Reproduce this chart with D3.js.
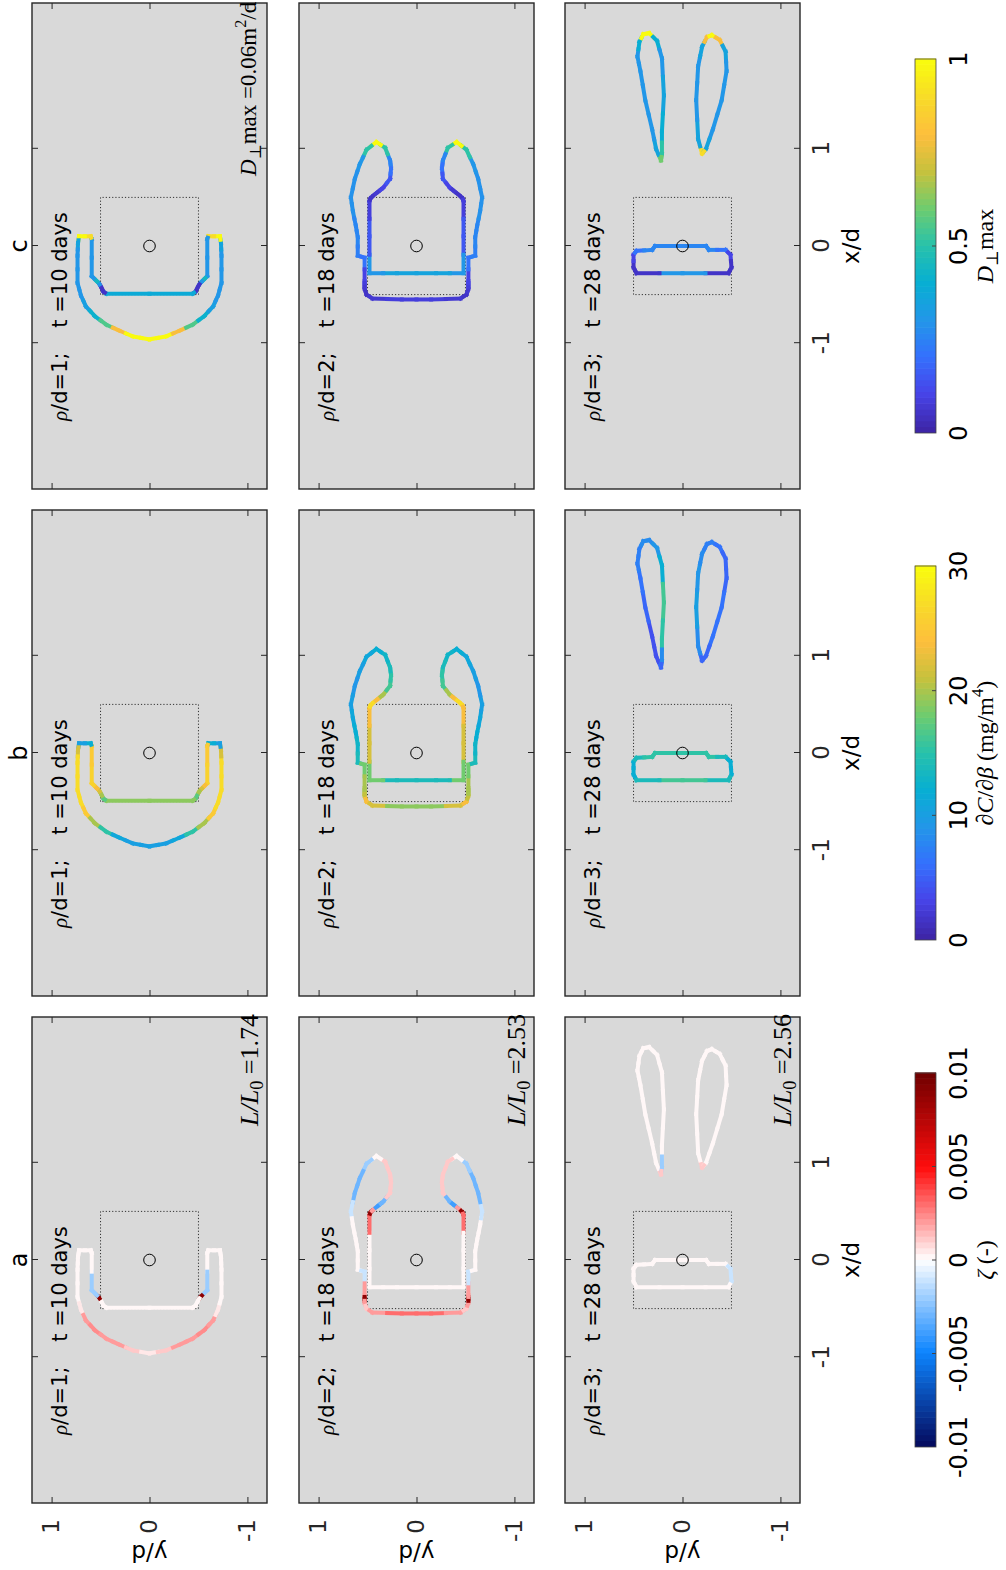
<!DOCTYPE html>
<html>
<head>
<meta charset="utf-8">
<script src="https://cdn.jsdelivr.net/npm/d3@7"></script>
<style>
  body { margin: 0; background: #fff; }
  svg { display: block; }
</style>
</head>
<body>
<svg width="1006" height="1570"></svg>
<script>
// --- Labels & ticks ---
const columnTitles = ["a", "b", "c"];
const rhoLabels = ["1", "2", "3"];
const timeLabels = ["t =10 days", "t =18 days", "t =28 days"];
const lengthRatios = ["1.74", "2.53", "2.56"];
const xTicks = [-1, 0, 1];
const yTicks = [-1, 0, 1];
const zetaTicks = [-0.01, -0.005, 0, 0.005, 0.01];
const zetaTickLabels = ["-0.01", "-0.005", "0", "0.005", "0.01"];
const dcTicks = [0, 10, 20, 30];
const dmaxTicks = [0, 0.5, 1];
const dmaxTickLabels = ["0", "0.5", "1"];

// --- Contours (x/d, y/d), one closed loop each ---
// rho/d = 1, t = 10 days
const row1Path = [
  [0.10,0.72],[0.03,0.73],[-0.10,0.735],[-0.38,0.735],[-0.51,0.70],[-0.62,0.65],[-0.72,0.56],[-0.81,0.44],[-0.87,0.31],[-0.93,0.17],[-0.96,0.0],
  [-0.93,-0.17],[-0.87,-0.31],[-0.81,-0.44],[-0.72,-0.56],[-0.62,-0.65],[-0.51,-0.70],[-0.38,-0.735],[-0.10,-0.735],[0.03,-0.73],[0.10,-0.72],
  [0.10,-0.60],[0.07,-0.59],[-0.31,-0.59],[-0.35,-0.55],[-0.38,-0.52],[-0.41,-0.50],[-0.47,-0.47],[-0.49,-0.44],
  [-0.49,0.44],[-0.47,0.47],[-0.41,0.50],[-0.38,0.52],[-0.35,0.55],[-0.31,0.59],[0.07,0.59],[0.10,0.60]
];
const row1Zeta = [0,0,0,0,0.0005,0.002,0.0025,0.002,0.002,0.001,0.0005,0.001,0.002,0.002,0.0025,0.002,0.0005,0,0,0,0,
  0,0,-0.002,-0.002,0.009,0,0,0,
  0,0,0,0.009,-0.002,-0.002,0,0];
const row1Dc = [10,22,27,27,27,25,20,15,11,10,10,10,11,15,20,25,27,27,27,22,10,
  12,25,26,24,22,20,17,19,
  19,17,20,22,24,26,25,12];
const row1Dmax = [1.0,0.35,0.3,0.3,0.3,0.33,0.42,0.55,0.8,1.0,1.0,1.0,0.8,0.55,0.42,0.33,0.3,0.3,0.3,0.35,1.0,
  0.9,0.3,0.3,0.45,0.3,0.05,0.05,0.38,
  0.38,0.05,0.05,0.3,0.45,0.3,0.3,0.9];

// rho/d = 2, t = 18 days
const row2Path = [
  [1.07,0.41],[0.99,0.51],[0.84,0.58],[0.69,0.63],[0.50,0.67],[0.36,0.65],[0.21,0.62],[0.09,0.60],[-0.10,0.60],[-0.12,0.53],
  [-0.36,0.53],[-0.40,0.53],[-0.44,0.53],[-0.50,0.51],[-0.54,0.45],[-0.55,0.15],[-0.55,-0.15],[-0.54,-0.45],[-0.50,-0.51],[-0.44,-0.53],[-0.40,-0.53],[-0.36,-0.53],
  [-0.12,-0.53],[-0.10,-0.60],[0.09,-0.60],[0.21,-0.62],[0.36,-0.65],[0.50,-0.67],[0.69,-0.63],[0.84,-0.58],[0.99,-0.51],[1.07,-0.41],
  [1.01,-0.32],[0.88,-0.27],[0.80,-0.26],[0.69,-0.27],[0.60,-0.34],[0.56,-0.39],[0.52,-0.44],[0.49,-0.47],[0.46,-0.48],
  [0.10,-0.48],[-0.28,-0.48],[-0.28,-0.20],[-0.28,0.20],[-0.28,0.48],[0.10,0.48],
  [0.46,0.48],[0.49,0.47],[0.52,0.44],[0.56,0.39],[0.60,0.34],[0.69,0.27],[0.80,0.26],[0.88,0.27],[1.01,0.32]
];
const row2Zeta = [0,-0.002,-0.003,-0.003,-0.001,0,0,0,0,-0.001,
  0.002,0.009,0.002,0.001,0.002,0.003,0.003,0.002,0.001,0.002,0.009,0.002,
  -0.001,0,0,0,0,-0.001,-0.003,-0.003,-0.002,0,
  0.001,0.001,0.001,0.001,-0.003,-0.004,0.002,0.009,0.003,
  0,0,0,0,0,0,
  0.003,0.009,0.002,-0.004,-0.003,0.001,0.001,0.001,0.001];
const row2Dc = [12,11,10,9,10,11,12,13,14,18,
  20,20,21,24,22,19,19,22,24,21,20,20,
  18,14,13,12,11,10,9,10,11,12,
  13,14,15,16,20,24,27,27,24,
  22,18,14,14,18,22,
  24,27,27,24,20,16,15,14,13];
const row2Dmax = [1.0,0.5,0.3,0.28,0.28,0.28,0.26,0.26,0.24,0.2,
  0.1,0.08,0.06,0.05,0.06,0.08,0.08,0.06,0.05,0.06,0.08,0.1,
  0.2,0.24,0.26,0.26,0.28,0.28,0.28,0.3,0.5,1.0,
  0.5,0.25,0.2,0.15,0.1,0.06,0.05,0.05,0.08,
  0.15,0.3,0.35,0.35,0.3,0.15,
  0.08,0.05,0.05,0.06,0.1,0.15,0.2,0.25,0.5];

// rho/d = 3, t = 28 days
const row3Rod = [
  [-0.28,0.47],[-0.22,0.50],[-0.09,0.50],[-0.05,0.47],[-0.04,0.31],[0.0,0.28],[0.0,-0.24],[-0.04,-0.27],[-0.04,-0.44],[-0.09,-0.49],[-0.22,-0.50],[-0.28,-0.47],[-0.28,0.0]
];
const row3RodZeta = [0,0,0,0,0,0,0,0,0,-0.001,-0.001,0,0];
const row3RodDc = [14,12,12,14,15,15,15,15,14,12,12,14,16];
const row3RodDmax = [0.05,0.05,0.1,0.2,0.25,0.25,0.25,0.25,0.2,0.1,0.05,0.05,0.3];

const row3DropUp = [
  [0.88,0.22],[1.0,0.27],[1.2,0.31],[1.5,0.38],[1.8,0.43],[1.95,0.46],[2.1,0.44],[2.18,0.40],[2.19,0.34],[2.11,0.26],[1.93,0.21],[1.55,0.19],[1.18,0.21],[0.95,0.21]
];
const row3DropUpZeta = [0.001,0,0,0,0,0,0,0,0,0,0,0,0,-0.002];
const row3DropUpDc = [5,4,4,5,6,7,7,8,8,9,12,16,15,8];
const row3DropUpDmax = [0.6,0.35,0.3,0.3,0.3,0.3,0.4,1.0,1.0,0.4,0.3,0.35,0.4,0.5];

const row3DropLow = [
  [0.95,-0.20],[1.1,-0.16],[1.5,-0.14],[1.85,-0.16],[2.05,-0.20],[2.15,-0.25],[2.17,-0.30],[2.12,-0.38],[2.0,-0.44],[1.8,-0.45],[1.5,-0.40],[1.2,-0.31],[1.0,-0.24]
];
const row3DropLowZeta = [0.001,0,0,0,0,0,0,0,0,0,0,0,0];
const row3DropLowDc = [5,8,10,9,8,7,7,6,5,5,6,6,5];
const row3DropLowDmax = [0.9,0.35,0.3,0.3,0.35,0.8,1.0,0.8,0.35,0.3,0.3,0.3,0.35];

// shapes per row, values per row & column (a: zeta, b: dC/dbeta, c: Dmax)
const rowShapes = [[row1Path], [row2Path], [row3Rod, row3DropUp, row3DropLow]];
const rowValues = [
  [[row1Zeta], [row1Dc], [row1Dmax]],
  [[row2Zeta], [row2Dc], [row2Dmax]],
  [[row3RodZeta, row3DropUpZeta, row3DropLowZeta],
   [row3RodDc, row3DropUpDc, row3DropLowDc],
   [row3RodDmax, row3DropUpDmax, row3DropLowDmax]]
];

// --- Colormaps ---
const parulaStops = [
  [0.2422,0.1504,0.6603],[0.2773,0.2675,0.9155],[0.2052,0.4417,0.9902],[0.1333,0.5940,0.9093],
  [0.0283,0.6862,0.8217],[0.1561,0.7623,0.6710],[0.4291,0.8003,0.4405],[0.7710,0.7601,0.2385],
  [0.9906,0.7445,0.2385],[0.9709,0.8558,0.1618],[0.9763,0.9831,0.0538]
];
const divergingStops = [[0.02,0.05,0.38],[0.05,0.52,1.0],[1,1,1],[1,0.05,0.05],[0.45,0,0]];

function makeMap(stops, domain) {
  const c = d3.scaleLinear()
    .domain(d3.range(stops.length).map(i => i / (stops.length - 1)))
    .range(stops.map(s => d3.rgb(s[0]*255, s[1]*255, s[2]*255).toString()))
    .interpolate(d3.interpolateRgb);
  const t = d3.scaleLinear().domain(domain).range([0, 1]).clamp(true);
  // 64-level colormap like MATLAB
  return v => c(Math.round(t(v) * 63) / 63);
}
const colMaps = [
  makeMap(divergingStops, [-0.01, 0.01]),
  makeMap(parulaStops, [0, 30]),
  makeMap(parulaStops, [0, 1])
];

// --- Setup (figure drawn landscape, then turned a quarter left) ---
const sans = "'DejaVu Sans', sans-serif";
const serif = "'Liberation Serif', 'DejaVu Serif', serif";
const svg = d3.select("svg");
const figW = 1570;
const fig = svg.append("g").attr("transform", `translate(0,${figW}) rotate(-90)`);

const colX = [67, 574, 1081], rowY = [32, 299, 565];
const pw = 486, ph = 235;
const ink = "#262626";
const tickFont = 23;

function rich(sel, parts) {
  let shift = 0;
  parts.forEach(([txt, kind]) => {
    const target = kind === "sub" ? 5 : kind === "sup" ? -10 : 0;
    const t = sel.append("tspan").text(txt).attr("dy", target - shift);
    shift = target;
    if (kind === "sub" || kind === "sup") t.attr("font-size", "0.7em");
    if (kind === "i") t.attr("font-style", "italic");
    if (kind === "isans") t.attr("font-style", "italic").attr("font-family", serif);
    if (kind === "sans") t.attr("font-family", sans);
  });
  return sel;
}

function drawOutline(sel, pts, vals, cmap, xs, ys) {
  const n = pts.length;
  for (let i = 0; i < n; i++) {
    const p = pts[i], q = pts[(i + 1) % n];
    const m = [(p[0] + q[0]) / 2, (p[1] + q[1]) / 2];
    [[p, m, vals[i]], [m, q, vals[(i + 1) % n]]].forEach(([a, b, v]) => {
      sel.append("line")
        .attr("x1", xs(a[0])).attr("y1", ys(a[1]))
        .attr("x2", xs(b[0])).attr("y2", ys(b[1]))
        .attr("stroke", cmap(v))
        .attr("stroke-width", 4)
        .attr("stroke-linecap", "square");
    });
  }
}

// --- Panels ---
columnTitles.forEach((title, c) => {
  fig.append("text")
    .attr("x", colX[c] + pw / 2).attr("y", 27)
    .attr("text-anchor", "middle")
    .attr("font-family", sans).attr("font-size", 24)
    .text(title);

  rhoLabels.forEach((rho, r) => {
    const x0 = colX[c], y0 = rowY[r];
    const xs = d3.scaleLinear().domain([-2.5, 2.5]).range([x0, x0 + pw]);
    const ys = d3.scaleLinear().domain([-1.2, 1.2]).range([y0 + ph, y0]);
    const p = fig.append("g");

    p.append("rect")
      .attr("x", x0).attr("y", y0).attr("width", pw).attr("height", ph)
      .attr("fill", "#d9d9d9");

    // dotted source square and well
    p.append("rect")
      .attr("x", xs(-0.5)).attr("y", ys(0.5))
      .attr("width", xs(0.5) - xs(-0.5)).attr("height", ys(-0.5) - ys(0.5))
      .attr("fill", "none").attr("stroke", "#333").attr("stroke-width", 1)
      .attr("stroke-dasharray", "1.2,2");

    rowShapes[r].forEach((pts, k) => drawOutline(p, pts, rowValues[r][c][k], colMaps[c], xs, ys));

    p.append("circle")
      .attr("cx", xs(0)).attr("cy", ys(0)).attr("r", 5.8)
      .attr("fill", "none").attr("stroke", "#000").attr("stroke-width", 1);

    // axes, ticks inward on all four sides
    const showX = r === 2, showY = c === 0;
    const plain = d => String(d);
    const axB = p.append("g").attr("transform", `translate(0,${y0 + ph})`)
      .call(d3.axisBottom(xs).tickValues(xTicks).tickSizeInner(-6).tickSizeOuter(0)
        .tickPadding(13).tickFormat(showX ? plain : ""));
    const axT = p.append("g").attr("transform", `translate(0,${y0})`)
      .call(d3.axisTop(xs).tickValues(xTicks).tickSizeInner(-6).tickSizeOuter(0).tickFormat(""));
    const axL = p.append("g").attr("transform", `translate(${x0},0)`)
      .call(d3.axisLeft(ys).tickValues(yTicks).tickSizeInner(-6).tickSizeOuter(0)
        .tickPadding(16).tickFormat(showY ? plain : ""));
    const axR = p.append("g").attr("transform", `translate(${x0 + pw},0)`)
      .call(d3.axisRight(ys).tickValues(yTicks).tickSizeInner(-6).tickSizeOuter(0).tickFormat(""));
    [axB, axT, axL, axR].forEach(a => {
      a.select(".domain").remove();
      a.attr("color", ink).attr("font-family", sans).attr("font-size", tickFont);
      a.selectAll("line").attr("stroke-width", 1);
    });

    p.append("rect")
      .attr("x", x0).attr("y", y0).attr("width", pw).attr("height", ph)
      .attr("fill", "none").attr("stroke", ink).attr("stroke-width", 1.4);

    // in-panel labels
    rich(p.append("text").attr("x", xs(-1.80)).attr("y", y0 + 35)
      .attr("font-family", sans).attr("font-size", 21),
      [["ρ", "isans"], ["/d=" + rho + ";", "sans"]]);
    p.append("text").attr("x", xs(-0.84)).attr("y", y0 + 35)
      .attr("font-family", sans).attr("font-size", 21)
      .text(timeLabels[r]);

    if (c === 0) {
      rich(p.append("text").attr("x", x0 + pw + 3).attr("y", y0 + 226)
        .attr("text-anchor", "end").attr("font-family", serif).attr("font-size", 26),
        [["L/L", "i"], ["0", "sub"], [" =" + lengthRatios[r], ""]]);
    }
    if (c === 2 && r === 0) {
      rich(p.append("text").attr("x", xs(0.72)).attr("y", y0 + 224)
        .attr("font-family", serif).attr("font-size", 23),
        [["D", "i"], ["⊥", "sub"], ["max =0.06m", ""], ["2", "sup"], ["/d", ""]]);
    }

    if (showY) {
      fig.append("text")
        .attr("transform", `translate(25,${y0 + ph / 2}) rotate(-90)`)
        .attr("text-anchor", "middle")
        .attr("font-family", sans).attr("font-size", tickFont)
        .text("y/d");
    }
    if (showX) {
      fig.append("text")
        .attr("x", x0 + pw / 2).attr("y", 859)
        .attr("text-anchor", "middle")
        .attr("font-family", sans).attr("font-size", tickFont)
        .text("x/d");
    }
  });
});

// --- Colorbars ---
const cbW = 374, cbY = 915, cbH = 21;
const colorbars = [
  { domain: [-0.01, 0.01], ticks: zetaTicks, labels: zetaTickLabels,
    title: [["ζ", "i"], [" (-)", ""]] },
  { domain: [0, 30], ticks: dcTicks, labels: dcTicks.map(String),
    title: [["∂", ""], ["C", "i"], ["/∂", ""], ["β", "i"], [" (mg/m", ""], ["4", "sup"], [")", ""]] },
  { domain: [0, 1], ticks: dmaxTicks, labels: dmaxTickLabels,
    title: [["D", "i"], ["⊥", "sub"], ["max", ""]] }
];

colorbars.forEach((cb, c) => {
  const x0 = colX[c] + (pw - cbW) / 2;
  const s = d3.scaleLinear().domain(cb.domain).range([x0, x0 + cbW]);
  const g = fig.append("g");
  const n = 64;
  d3.range(n).forEach(i => {
    const v = cb.domain[0] + (cb.domain[1] - cb.domain[0]) * (i + 0.5) / n;
    g.append("rect")
      .attr("x", x0 + cbW * i / n).attr("y", cbY)
      .attr("width", cbW / n + 0.6).attr("height", cbH)
      .attr("fill", colMaps[c](v));
  });
  g.append("rect")
    .attr("x", x0).attr("y", cbY).attr("width", cbW).attr("height", cbH)
    .attr("fill", "none").attr("stroke", "#444").attr("stroke-width", 0.8);
  cb.ticks.forEach((t, i) => {
    if (i > 0 && i < cb.ticks.length - 1) {
      g.append("line")
        .attr("x1", s(t)).attr("x2", s(t)).attr("y1", cbY + cbH).attr("y2", cbY + cbH - 4)
        .attr("stroke", "#444").attr("stroke-width", 1);
    }
    g.append("text")
      .attr("x", s(t)).attr("y", 967)
      .attr("text-anchor", "middle")
      .attr("font-family", sans).attr("font-size", 24)
      .text(cb.labels[i]);
  });
  rich(g.append("text").attr("x", x0 + cbW / 2).attr("y", 993)
    .attr("text-anchor", "middle").attr("font-family", serif).attr("font-size", 24),
    cb.title);
});
</script>
</body>
</html>
